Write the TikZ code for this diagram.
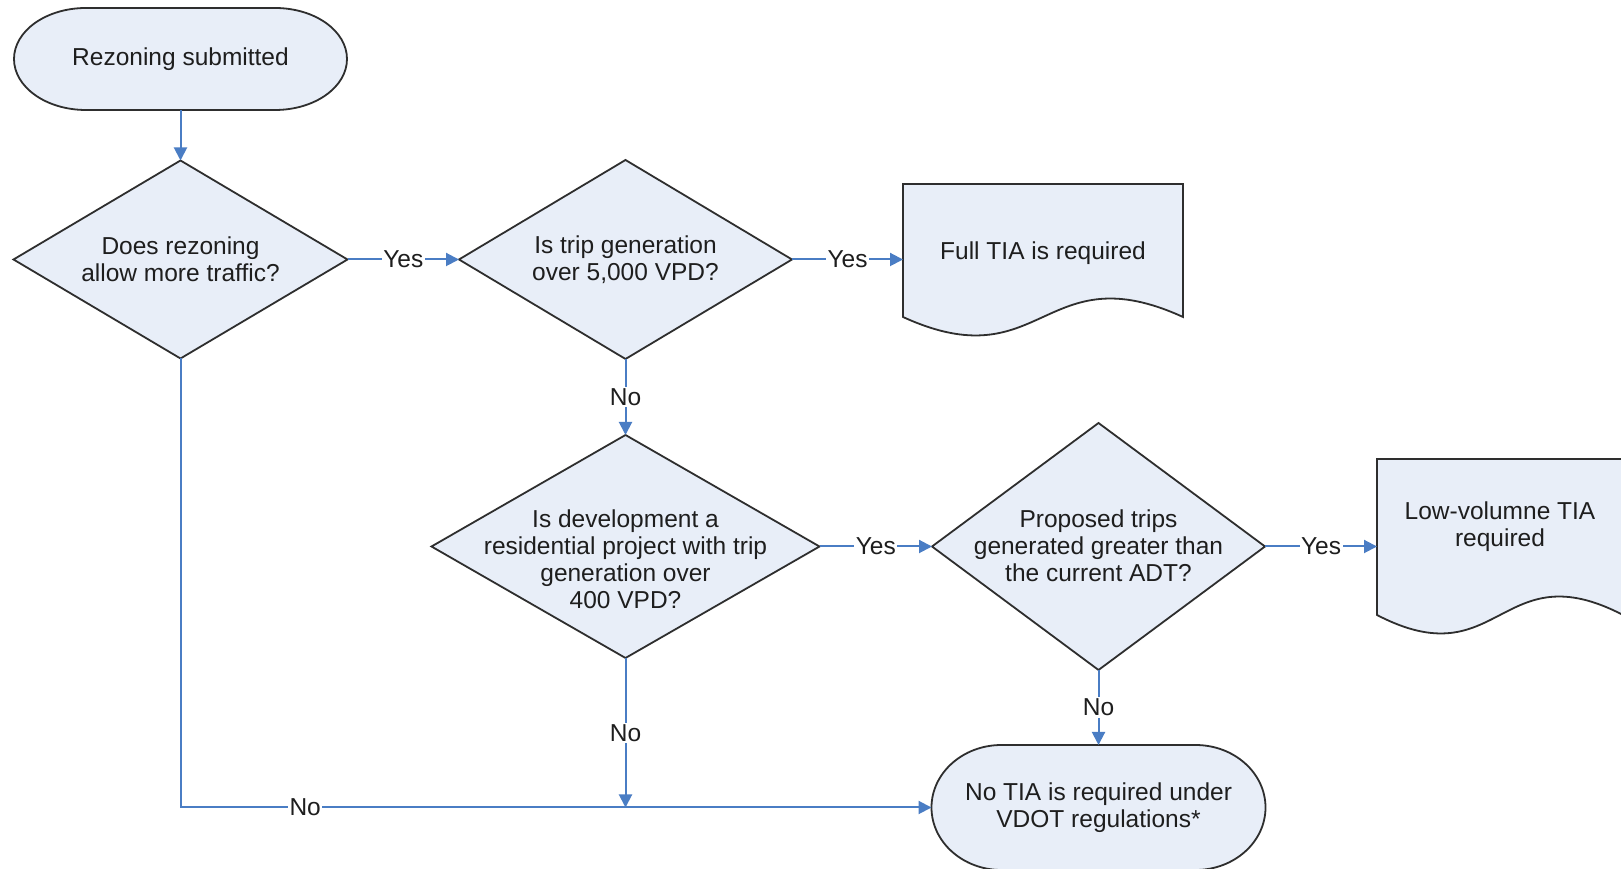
\documentclass[tikz,border=0pt]{standalone}
\usepackage{fontspec}
\setmainfont{Liberation Sans}
\usetikzlibrary{shapes.geometric,arrows.meta,backgrounds,calc}
\definecolor{boxfill}{HTML}{E8EEF8}
\definecolor{boxline}{HTML}{2E2E2E}
\definecolor{conblue}{HTML}{4A7DC4}
\definecolor{txtcol}{HTML}{1E1E1E}
\tikzset{
 every node/.style={font=\fontsize{24.5}{27}\selectfont, text=txtcol},
 dia/.style={diamond, draw=boxline, fill=boxfill, line width=1.8pt, inner sep=0pt, outer sep=0pt},
 holder/.style={rectangle, inner sep=0pt, outer sep=0pt, align=center},
 qtext/.style={align=center, inner sep=0pt},
 shapeline/.style={draw=boxline, fill=boxfill, line width=1.8pt},
 connector/.style={draw=conblue, line width=2pt, -{Triangle[length=13pt,width=13pt]}},
 lab/.style={fill=white, inner sep=1.5pt},
}
\newcommand\termshape[3]{%
  \path[shapeline] ([xshift=#2]#1.north west) -- ([xshift=-#2]#1.north east)
    arc[start angle=90, end angle=-90, x radius=#2, y radius=#3]
    -- ([xshift=#2]#1.south west)
    arc[start angle=270, end angle=90, x radius=#2, y radius=#3] -- cycle;}
\newcommand\docshape[2]{%
  \path[shapeline] (#1.south west) -- (#1.north west) -- (#1.north east) -- (#1.south east)
   .. controls ($(#1.south)+(0,#2)$) and ($(#1.south)+(0,-#2)$) .. (#1.south west) -- cycle;}
\begin{document}
\begin{tikzpicture}[x=1pt,y=1pt]
\useasboundingbox (0,0) rectangle (1621,869);
% terminals and documents (text holders)
\node[holder, minimum width=333pt, minimum height=102pt] (start) at (180.5,810) {Rezoning submitted};
\node[holder, minimum width=280pt, minimum height=133pt] (full) at (1043,618.5) {};
\node[holder, minimum width=246pt, minimum height=156pt] (low) at (1500,332) {};
\node[holder, minimum width=334pt, minimum height=125pt] (end) at (1098.5,61.5) {No TIA is required under\\VDOT regulations*};
\begin{scope}[on background layer]
  \fill[white] (0,0) rectangle (1621,869);
  \termshape{start}{72pt}{51pt}
  \termshape{end}{70pt}{62.5pt}
  \docshape{full}{64}
  \docshape{low}{64}
\end{scope}
\node[qtext] (fullt) at (1043,616) {Full TIA is required};
\node[qtext] (lowt) at (1500,342.5) {Low-volumne TIA\\required};
% decisions
\node[dia, minimum width=334pt, minimum height=198pt] (d1) at (180.5,609.5) {};
\node[qtext] (d1t) at (d1.center) {Does rezoning\\allow more traffic?};
\node[dia, minimum width=333pt, minimum height=199pt] (d2) at (625.5,609.5) {};
\node[qtext] (d2t) at (d2.center) {Is trip generation\\over 5,000 VPD?};
\node[dia, minimum width=388pt, minimum height=223pt] (d3) at (625.5,322.5) {};
\node[qtext] (d3t) at (625.5,310) {Is development a\\residential project with trip\\generation over\\400 VPD?};
\node[dia, minimum width=333pt, minimum height=247pt] (d4) at (1098.5,322.5) {};
\node[qtext] (d4t) at (1098.5,323) {Proposed trips\\generated greater than\\the current ADT?};
\coordinate (j) at (625.5,61.5);
% connectors
\draw[connector] (start.south) -- (d1.north);
\draw[connector] (d1.east) -- node[lab] (l1) {Yes} (d2.west);
\draw[connector] (d2.east) -- node[lab] (l2) {Yes} (d2.east -| full.west);
\draw[connector] (d2.south) -- node[lab] (l3) {No} (d3.north);
\draw[connector] (d3.east) -- node[lab] (l4) {Yes} (d4.west);
\draw[connector] (d4.east) -- node[lab] (l5) {Yes} (d4.east -| low.west);
\draw[connector] (d4.south) -- node[lab] (l6) {No} (end.north);
\draw[connector] (d3.south) -- node[lab] (l7) {No} (j);
\draw[connector] (d1.south) |- node[lab, pos=0.583] (l8) {No} (end.west);
\end{tikzpicture}
\end{document}
